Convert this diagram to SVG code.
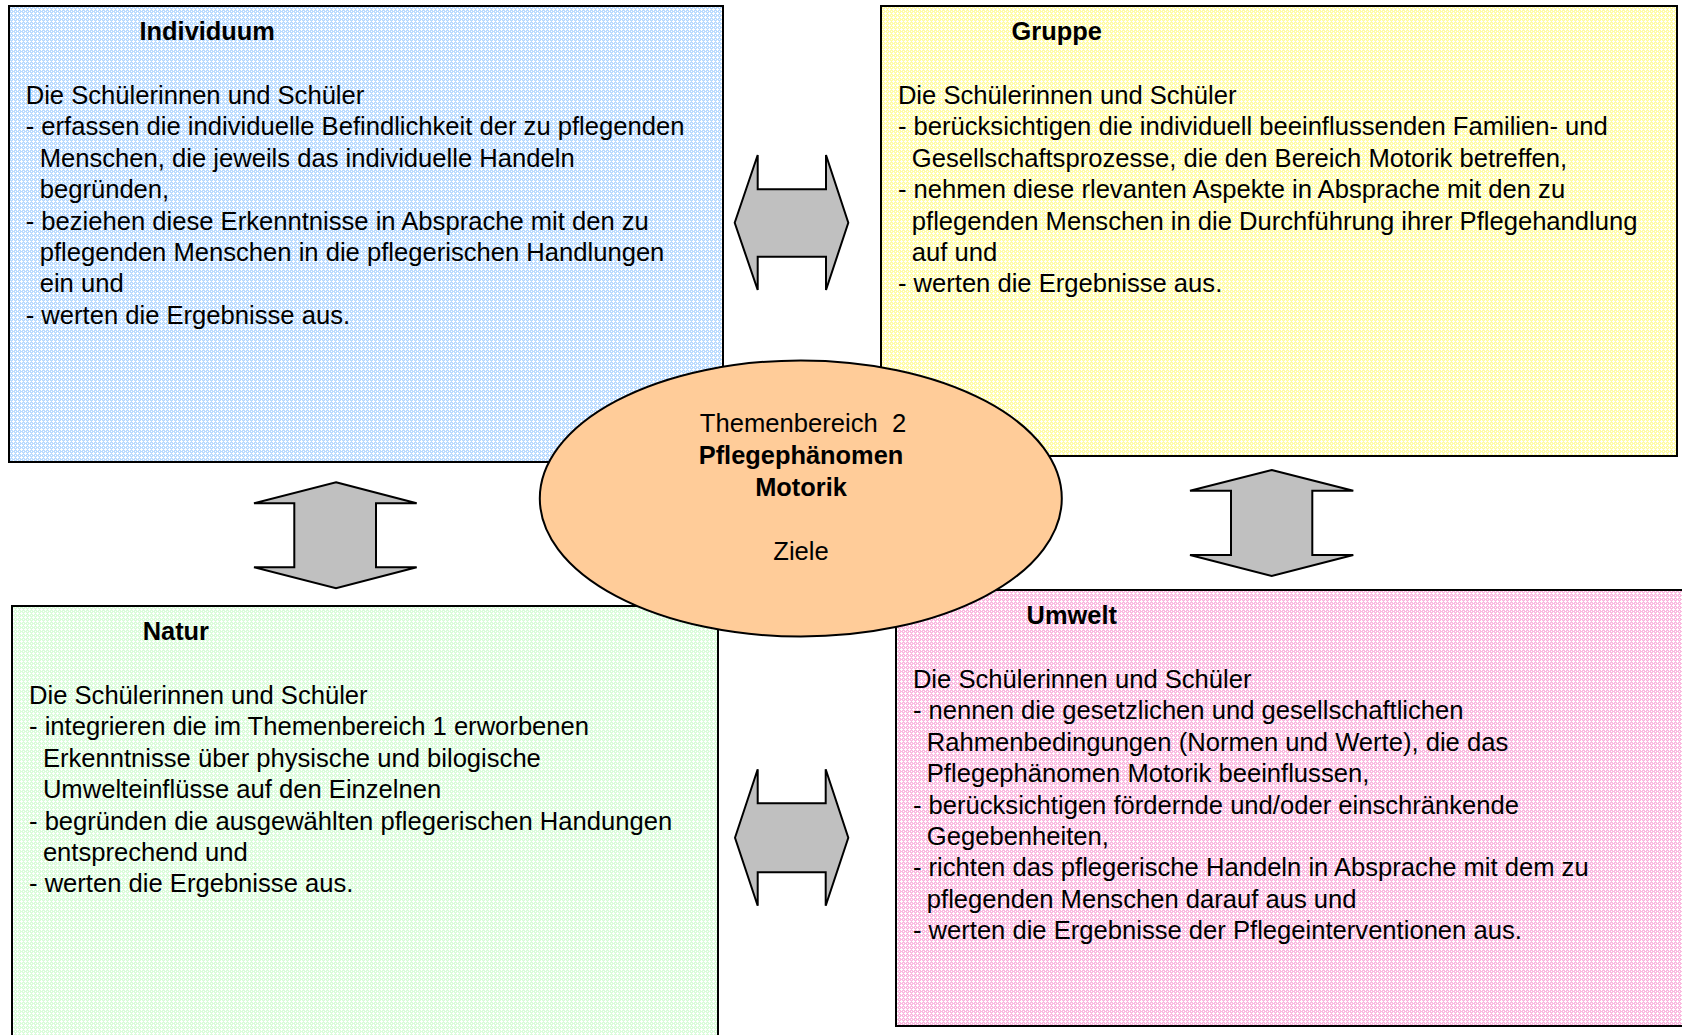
<svg xmlns="http://www.w3.org/2000/svg" width="1682" height="1035" viewBox="0 0 1682 1035">
<defs>
<style>
.box{stroke:#000;stroke-width:2}
.t{font-family:"Liberation Sans",Arial,sans-serif;font-size:25.6px;fill:#000}
.b{font-weight:bold;font-size:25.4px}
.arr{fill:#c0c0c0;stroke:#000;stroke-width:2;stroke-linejoin:miter}
</style>
<pattern id="pb" width="4" height="4" patternUnits="userSpaceOnUse"><rect width="4" height="4" fill="#badbff"/><path d="M1 0h1v1h-1zM0 1h3v1h-3zM1 2h1v1h-1zM3 3h1v1h-1z" fill="#fff"/></pattern>
<pattern id="py" width="4" height="4" patternUnits="userSpaceOnUse"><rect width="4" height="4" fill="#fffca7"/><path d="M1 0h1v1h-1zM0 1h3v1h-3zM1 2h1v1h-1zM3 3h1v1h-1z" fill="#fff"/></pattern>
<pattern id="pg" width="4" height="4" patternUnits="userSpaceOnUse"><rect width="4" height="4" fill="#dafcda"/><path d="M1 0h1v1h-1zM0 1h3v1h-3zM1 2h1v1h-1zM3 3h1v1h-1z" fill="#fff"/></pattern>
<pattern id="pp" width="4" height="4" patternUnits="userSpaceOnUse"><rect width="4" height="4" fill="#fabae0"/><path d="M1 0h1v1h-1zM0 1h3v1h-3zM1 2h1v1h-1zM3 3h1v1h-1z" fill="#fff"/></pattern>
</defs>
<rect width="1682" height="1035" fill="#fff"/>

<g id="individuum">
<rect class="box" x="9" y="6" width="714" height="456" fill="url(#pb)"/>
<text class="t b" x="139.5" y="40">Individuum</text>
<text class="t">
<tspan x="25.7" y="104">Die Schülerinnen und Schüler</tspan>
<tspan x="25.7" y="135.4">- erfassen die individuelle Befindlichkeit der zu pflegenden</tspan>
<tspan x="39.7" y="166.8">Menschen, die jeweils das individuelle Handeln</tspan>
<tspan x="39.7" y="198.2">begründen,</tspan>
<tspan x="25.7" y="229.6">- beziehen diese Erkenntnisse in Absprache mit den zu</tspan>
<tspan x="39.7" y="261">pflegenden Menschen in die pflegerischen Handlungen</tspan>
<tspan x="39.7" y="292.4">ein und</tspan>
<tspan x="25.7" y="323.8">- werten die Ergebnisse aus.</tspan>
</text>
</g>

<g id="gruppe">
<rect class="box" x="881" y="6" width="796" height="450" fill="url(#py)"/>
<text class="t b" x="1011.6" y="40">Gruppe</text>
<text class="t">
<tspan x="897.9" y="104">Die Schülerinnen und Schüler</tspan>
<tspan x="897.9" y="135.4">- berücksichtigen die individuell beeinflussenden Familien- und</tspan>
<tspan x="911.8" y="166.8">Gesellschaftsprozesse, die den Bereich Motorik betreffen,</tspan>
<tspan x="897.9" y="198.2">- nehmen diese rlevanten Aspekte in Absprache mit den zu</tspan>
<tspan x="911.8" y="229.6">pflegenden Menschen in die Durchführung ihrer Pflegehandlung</tspan>
<tspan x="911.8" y="261">auf und</tspan>
<tspan x="897.9" y="292.4">- werten die Ergebnisse aus.</tspan>
</text>
</g>

<g id="natur">
<rect class="box" x="12" y="606" width="706" height="460" fill="url(#pg)"/>
<text class="t b" x="142.7" y="640">Natur</text>
<text class="t">
<tspan x="29" y="704">Die Schülerinnen und Schüler</tspan>
<tspan x="29" y="735.4">- integrieren die im Themenbereich 1 erworbenen</tspan>
<tspan x="42.9" y="766.8">Erkenntnisse über physische und bilogische</tspan>
<tspan x="42.9" y="798.2">Umwelteinflüsse auf den Einzelnen</tspan>
<tspan x="29" y="829.6">- begründen die ausgewählten pflegerischen Handungen</tspan>
<tspan x="42.9" y="861">entsprechend und</tspan>
<tspan x="29" y="892.4">- werten die Ergebnisse aus.</tspan>
</text>
</g>

<g id="umwelt">
<rect class="box" x="896" y="590" width="820" height="436" fill="url(#pp)"/>
<text class="t b" x="1026.6" y="624">Umwelt</text>
<text class="t">
<tspan x="912.9" y="688">Die Schülerinnen und Schüler</tspan>
<tspan x="912.9" y="719.4">- nennen die gesetzlichen und gesellschaftlichen</tspan>
<tspan x="926.8" y="750.8">Rahmenbedingungen (Normen und Werte), die das</tspan>
<tspan x="926.8" y="782.2">Pflegephänomen Motorik beeinflussen,</tspan>
<tspan x="912.9" y="813.6">- berücksichtigen fördernde und/oder einschränkende</tspan>
<tspan x="926.8" y="845">Gegebenheiten,</tspan>
<tspan x="912.9" y="876.4">- richten das pflegerische Handeln in Absprache mit dem zu</tspan>
<tspan x="926.8" y="907.8">pflegenden Menschen darauf aus und</tspan>
<tspan x="912.9" y="939.2">- werten die Ergebnisse der Pflegeinterventionen aus.</tspan>
</text>
</g>

<g id="zentrum">
<ellipse cx="800.8" cy="498.5" rx="261" ry="138" fill="#ffcc99" stroke="#000" stroke-width="2"/>
<text class="t" text-anchor="middle" x="803" y="431.5" xml:space="preserve">Themenbereich  2</text>
<text class="t b" text-anchor="middle" x="801" y="464">Pflegephänomen</text>
<text class="t b" text-anchor="middle" x="801" y="496">Motorik</text>
<text class="t" text-anchor="middle" x="801" y="559.5">Ziele</text>
</g>

<g id="connectors">
<polygon class="arr" points="734.7,222.7 757.7,155 757.7,189.3 826,189.3 826,155 848.3,222.7 826,290 826,256.7 757.7,256.7 757.7,290"/>
<polygon class="arr" points="735,837.7 757.7,769.3 757.7,803.3 825.7,803.3 825.7,769.3 848.3,837.7 825.7,905.7 825.7,872.3 757.7,872.3 757.7,905.7"/>
<polygon class="arr" points="336,482.3 416.7,503.3 376,503.3 376,567.3 416.7,567.3 336,588.3 254,567.3 294.3,567.3 294.3,503.3 254,503.3"/>
<polygon class="arr" points="1271.7,470 1353.3,490.7 1312.3,490.7 1312.3,555 1353.3,555 1271.7,576 1190,555 1231,555 1231,490.7 1190,490.7"/>
</g>
</svg>
